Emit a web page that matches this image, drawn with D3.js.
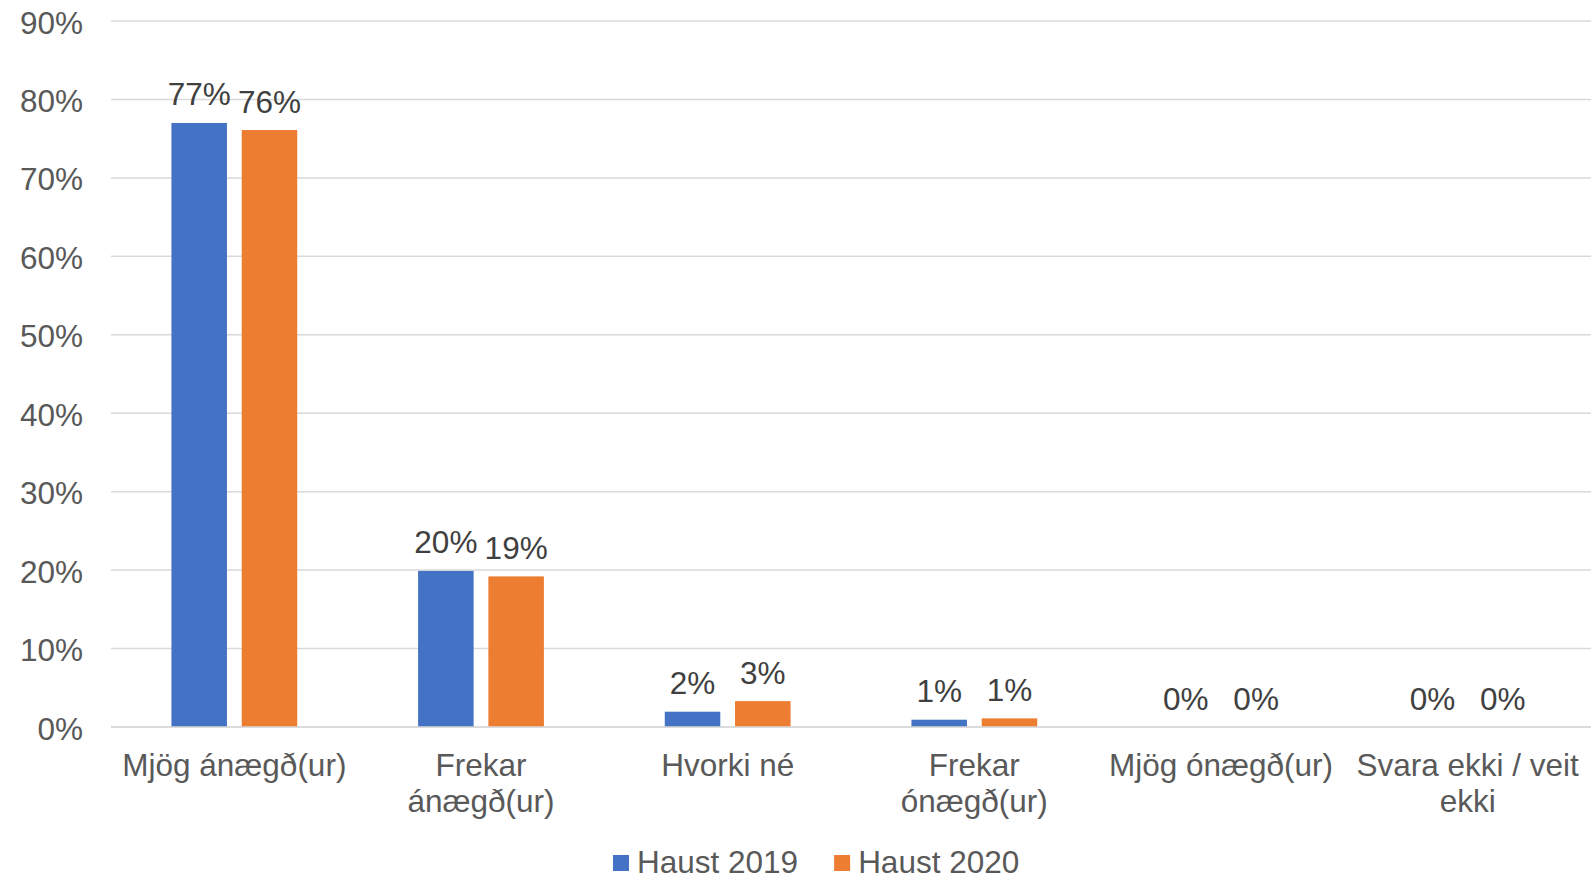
<!DOCTYPE html>
<html>
<head>
<meta charset="utf-8">
<script src="https://cdn.jsdelivr.net/npm/d3@7"></script>
<style>
  body { margin: 0; background: #fff; }
  text { font-family: "Liberation Sans", Arial, sans-serif; }
</style>
</head>
<body>
<div id="chart"></div>
<script>
var categories = ["Mjög ánægð(ur)", "Frekar ánægð(ur)", "Hvorki né", "Frekar ónægð(ur)", "Mjög ónægð(ur)", "Svara ekki / veit ekki"];
var seriesNames = ["Haust 2019", "Haust 2020"];
var haust2019 = [0.77, 0.199, 0.0195, 0.0093, 0, 0];
var haust2020 = [0.761, 0.192, 0.033, 0.011, 0, 0];
var yTicks = [0, 0.1, 0.2, 0.3, 0.4, 0.5, 0.6, 0.7, 0.8, 0.9];
var colors = ["#4472C4", "#ED7D31"];

var width = 1594, height = 875;
var plotLeft = 111, plotRight = 1591, plotTop = 21, plotBottom = 727;
var fontSize = "31.5px";

var svg = d3.select("#chart").append("svg")
    .attr("width", width)
    .attr("height", height);

var y = d3.scaleLinear().domain([0, 0.9]).range([plotBottom, plotTop]);

var x0 = d3.scaleBand()
    .domain(categories)
    .range([plotLeft, plotRight])
    .paddingInner(0.49)
    .paddingOuter(0.245);

var x1 = d3.scaleBand()
    .domain(seriesNames)
    .range([0, x0.bandwidth()])
    .paddingInner(0.21);

// gridlines
svg.append("g").selectAll("line")
    .data(yTicks)
    .enter().append("line")
    .attr("x1", plotLeft)
    .attr("x2", plotRight)
    .attr("y1", function (d) { return y(d); })
    .attr("y2", function (d) { return y(d); })
    .style("stroke", "#d9d9d9")
    .style("stroke-width", "1.5px");

// y axis labels
var yAxis = svg.append("g")
    .attr("transform", "translate(" + 83 + ",0)")
    .call(d3.axisLeft(y).tickValues(yTicks).tickSize(0).tickPadding(0).tickFormat(d3.format(".0%")));
yAxis.select(".domain").remove();
yAxis.selectAll("text")
    .attr("dy", null)
    .attr("y", 12)
    .style("font-size", fontSize)
    .style("fill", "#595959")
    .style("font-family", "Liberation Sans, Arial, sans-serif");

// bars
var rows = categories.map(function (c, i) {
    return {cat: c, values: [haust2019[i], haust2020[i]]};
});

var groups = svg.append("g").selectAll("g")
    .data(rows)
    .enter().append("g")
    .attr("transform", function (d) { return "translate(" + x0(d.cat) + ",0)"; });

groups.selectAll("rect")
    .data(function (d) { return d.values.map(function (v, j) { return {s: seriesNames[j], v: v, j: j}; }); })
    .enter().append("rect")
    .attr("x", function (d) { return x1(d.s); })
    .attr("y", function (d) { return y(d.v); })
    .attr("width", x1.bandwidth())
    .attr("height", function (d) { return plotBottom - y(d.v); })
    .style("fill", function (d) { return colors[d.j]; });

groups.selectAll("text.label")
    .data(function (d) { return d.values.map(function (v, j) { return {s: seriesNames[j], v: v, j: j}; }); })
    .enter().append("text")
    .attr("class", "label")
    .attr("x", function (d) { return x1(d.s) + x1.bandwidth() / 2; })
    .attr("y", function (d) { return y(d.v) - 17.5; })
    .attr("text-anchor", "middle")
    .style("font-size", fontSize)
    .style("fill", "#404040")
    .text(function (d) { return Math.round(d.v * 100) + "%"; });

// baseline
svg.append("line")
    .attr("x1", plotLeft).attr("x2", plotRight)
    .attr("y1", y(0)).attr("y2", y(0))
    .style("stroke", "#d9d9d9")
    .style("stroke-width", "1.5px");

// category labels with wrapping
var catLabels = svg.append("g").selectAll("text")
    .data(categories)
    .enter().append("text")
    .attr("x", function (d) { return x0(d) + x0.bandwidth() / 2; })
    .attr("y", plotBottom + 49)
    .attr("text-anchor", "middle")
    .style("font-size", fontSize)
    .style("fill", "#595959")
    .text(function (d) { return d; });

function wrap(textSel, maxWidth) {
    textSel.each(function () {
        var text = d3.select(this);
        var words = text.text().split(/\s+/);
        var cx = text.attr("x");
        var cy = text.attr("y");
        text.text(null);
        var line = [];
        var lineNo = 0;
        var tspan = text.append("tspan").attr("x", cx).attr("y", cy);
        words.forEach(function (w) {
            line.push(w);
            tspan.text(line.join(" "));
            if (tspan.node().getComputedTextLength() > maxWidth && line.length > 1) {
                line.pop();
                tspan.text(line.join(" "));
                line = [w];
                lineNo++;
                tspan = text.append("tspan").attr("x", cx).attr("y", +cy + lineNo * 36).text(w);
            }
        });
    });
}
wrap(catLabels, 236);

// legend
var legend = svg.append("g").attr("transform", "translate(613,855)");
var lx = 0;
seriesNames.forEach(function (name, i) {
    legend.append("rect")
        .attr("x", lx).attr("y", 0)
        .attr("width", 16).attr("height", 16)
        .style("fill", colors[i]);
    var t = legend.append("text")
        .attr("x", lx + 24)
        .attr("y", 18)
        .style("font-size", fontSize)
        .style("fill", "#595959")
        .text(name);
    lx += 24 + t.node().getComputedTextLength() + 36;
});
</script>
</body>
</html>
